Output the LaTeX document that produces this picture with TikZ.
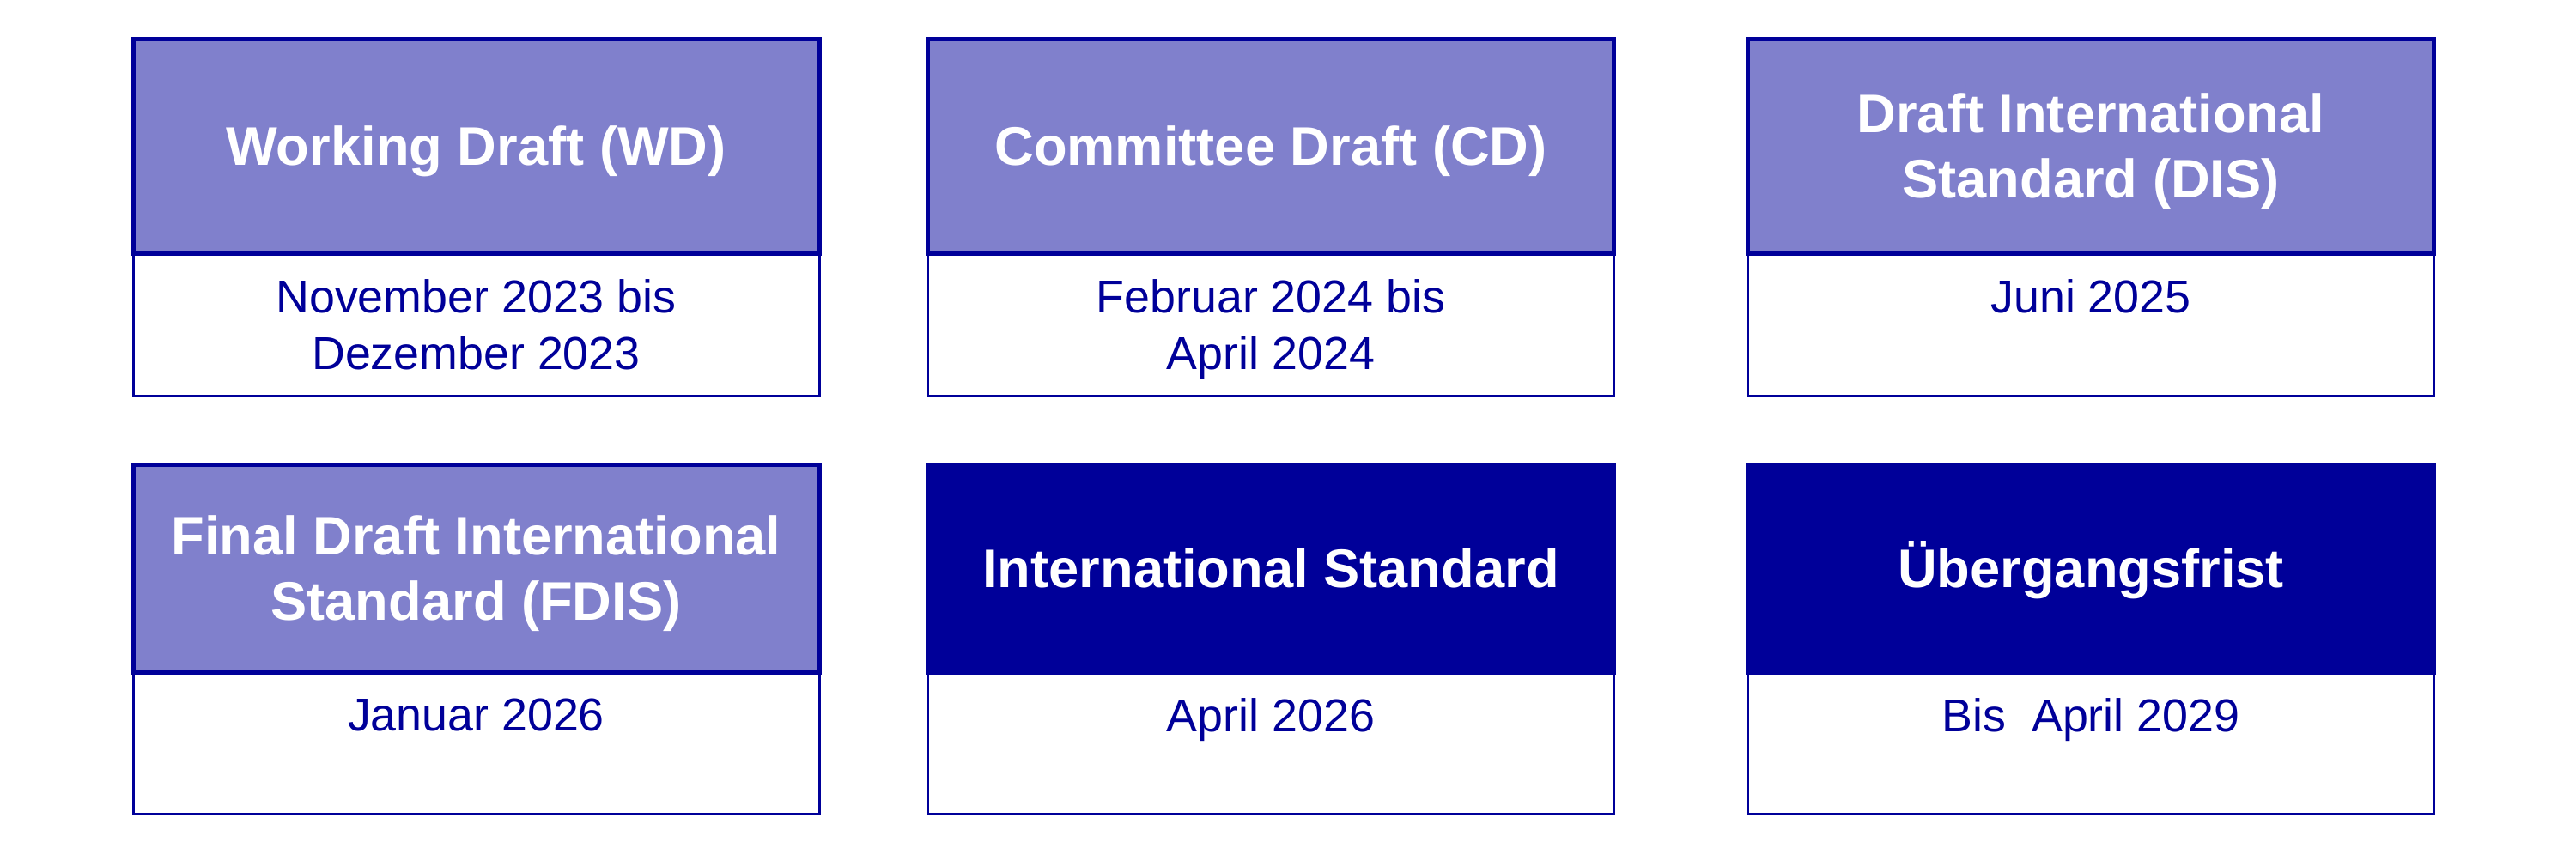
\documentclass[tikz,border=0pt]{standalone}
\usepackage{fontspec}
\setmainfont{Liberation Sans}
\usetikzlibrary{positioning}
\definecolor{isoblue}{RGB}{0,0,153}
\definecolor{isolight}{RGB}{128,128,204}
\begin{document}
\begin{tikzpicture}[
    head/.style={draw=isoblue,line width=0.05cm,fill=isolight,text=white,
      font=\fontsize{18}{21.8}\selectfont\bfseries,align=center,
      minimum width=7.99cm,minimum height=#1,inner sep=0pt,outer sep=0pt,
      text height=13.2pt,text depth=0.3pt},
    headdark/.style={head=#1,fill=isoblue},
    twoline/.style={text height=35pt},
    datebox/.style={draw=isoblue,line width=0.03cm,
      minimum width=7.99cm,minimum height=#1,inner sep=0pt,outer sep=0pt},
    datetext/.style={text=isoblue,font=\fontsize{15.3}{18.7}\selectfont,
      align=center,inner sep=0pt}
  ]
        \useasboundingbox (0,0) rectangle (30,-9.87);
        %% Headers
        \node[head=2.50cm] (wd) at (5.545,-1.70) {Working Draft (WD)};
        \node[head=2.50cm] (cd) at (14.80,-1.70) {Committee Draft (CD)};
        \node[head=2.50cm,twoline] (dis) at (24.35,-1.70) {Draft International\\Standard (DIS)};
        \node[head=2.42cm,twoline] (fdis) at (5.545,-6.62) {Final Draft International\\Standard (FDIS)};
        \node[headdark=2.42cm] (is) at (14.80,-6.62) {International Standard};
        \node[headdark=2.42cm] (frist) at (24.35,-6.62) {Übergangsfrist};
        %% Date boxes
        \node[datebox=1.66cm,below=0pt of wd] (wdbox) {};
        \node[datebox=1.66cm,below=0pt of cd] (cdbox) {};
        \node[datebox=1.66cm,below=0pt of dis] (disbox) {};
        \node[datebox=1.65cm,below=0pt of fdis] (fdisbox) {};
        \node[datebox=1.65cm,below=0pt of is] (isbox) {};
        \node[datebox=1.65cm,below=0pt of frist] (fristbox) {};
        %% Dates
        \node[datetext,below=3mm of wd] (wddate) {November 2023 bis\\Dezember 2023};
        \node[datetext,below=3mm of cd] (cddate) {Februar 2024 bis\\April 2024};
        \node[datetext,below=3mm of dis] (disdate) {Juni 2025};
        \node[datetext,below=3mm of fdis] (fdisdate) {Januar 2026};
        \node[datetext,below=3mm of is] (isdate) {April 2026};
        \node[datetext,below=3mm of frist] (fristdate) {Bis\ \ April 2029};
    \end{tikzpicture}
\end{document}
